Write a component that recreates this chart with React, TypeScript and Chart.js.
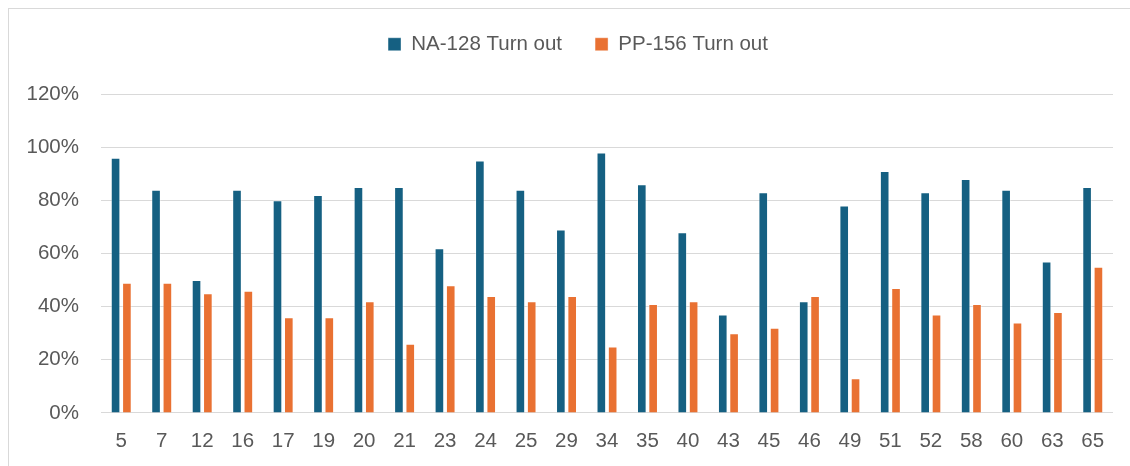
import React, { useEffect, useRef } from "react";
import { Chart, registerables } from "chart.js";

Chart.register(...registerables);

const categories = ["5", "7", "12", "16", "17", "19", "20", "21", "23", "24", "25", "29", "34", "35", "40", "43", "45", "46", "49", "51", "52", "58", "60", "63", "65"];
const na128TurnOut = [96, 84, 50, 84, 80, 82, 85, 85, 62, 95, 84, 69, 98, 86, 68, 37, 83, 42, 78, 91, 83, 88, 84, 57, 85];
const pp156TurnOut = [49, 49, 45, 46, 36, 36, 42, 26, 48, 44, 42, 44, 25, 41, 42, 30, 32, 44, 13, 47, 37, 41, 34, 38, 55];
const seriesNames = ["NA-128 Turn out", "PP-156 Turn out"];
const yTicks = [0, 20, 40, 60, 80, 100, 120];

const BLUE = "#156082";
const ORANGE = "#E97132";
const TEXT = "#595959";
const GRID = "#d9d9d9";
const FONT = "'Liberation Sans', Arial, sans-serif";

const legendSpacing = {
  id: "legendSpacing",
  beforeInit(chart: any) {
    const legend = chart.legend;
    if (!legend) return;
    const orig = legend.fit;
    legend.fit = function () {
      orig.call(this);
      this.height += 29.5;
    };
  },
  afterLayout(chart: any) {
    const legend = chart.legend;
    if (!legend) return;
    legend.left += 17;
    legend.right += 17;
  },
};

export default function App() {
  const ref = useRef<HTMLCanvasElement | null>(null);

  useEffect(() => {
    if (!ref.current) return;
    Chart.defaults.font.family = FONT;
    const chart = new Chart(ref.current, {
      type: "bar",
      data: {
        labels: categories,
        datasets: [
          {
            label: seriesNames[0],
            data: na128TurnOut,
            backgroundColor: BLUE,
            borderColor: "rgba(255,255,255,0.4)",
            borderWidth: 1,
            categoryPercentage: 0.56,
            barPercentage: 0.85,
          },
          {
            label: seriesNames[1],
            data: pp156TurnOut,
            backgroundColor: ORANGE,
            borderColor: "rgba(255,255,255,0.4)",
            borderWidth: 1,
            categoryPercentage: 0.56,
            barPercentage: 0.85,
          },
        ],
      },
      options: {
        animation: false,
        responsive: true,
        maintainAspectRatio: false,
        layout: { padding: { left: 0, right: 17, top: -8, bottom: -3.5 } },
        plugins: {
          legend: {
            position: "top",
            align: "center",
            labels: {
              boxWidth: 13,
              boxHeight: 13,
              padding: 33,
              color: TEXT,
              font: { size: 20.5, family: FONT },
            },
          },
          tooltip: { enabled: false },
          title: { display: false },
        },
        scales: {
          x: {
            grid: { display: false, drawTicks: false },
            border: { display: false },
            ticks: {
              color: TEXT,
              padding: 16,
              font: { size: 20.5, family: FONT },
              maxRotation: 0,
              autoSkip: false,
            },
          },
          y: {
            min: yTicks[0],
            max: yTicks[yTicks.length - 1],
            afterFit: (scale: any) => {
              scale.width = 92;
            },
            afterBuildTicks: (scale: any) => {
              scale.ticks = yTicks.map((v) => ({ value: v }));
            },
            grid: { color: GRID, lineWidth: 1, drawTicks: false },
            border: { display: false },
            ticks: {
              color: TEXT,
              padding: 22,
              font: { size: 20.5, family: FONT },
              callback: (v: any) => `${v}%`,
            },
          },
        },
      },
      plugins: [legendSpacing],
    });
    return () => chart.destroy();
  }, []);

  return (
    <div
      style={{
        position: "fixed",
        left: 8,
        top: 8,
        width: 1122,
        height: 458,
        boxSizing: "border-box",
        borderTop: "1px solid #d9d9d9",
        borderLeft: "1px solid #d9d9d9",
        background: "#fff",
      }}
    >
      <div style={{ position: "absolute", left: 0, top: 0, width: 1121, height: 457 }}>
        <canvas ref={ref} />
      </div>
    </div>
  );
}
